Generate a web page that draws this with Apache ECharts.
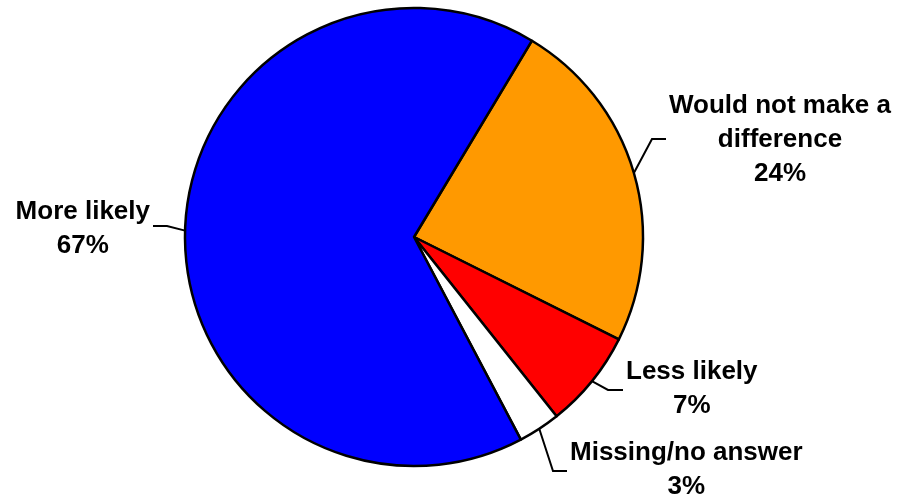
<!DOCTYPE html>
<html>
<head>
<meta charset="utf-8">
<script src="https://cdn.jsdelivr.net/npm/echarts@6/dist/echarts.min.js"></script>
<style>
  html, body { margin: 0; padding: 0; background: #fff; }
  #main-chart { width: 901px; height: 500px; }
</style>
</head>
<body>
<div id="main-chart"></div>
<script>
var mainChart;

// data
var categories = ['Would not make a difference', 'Less likely', 'Missing/no answer', 'More likely'];
var labelLines = [['Would not make a', 'difference'], ['Less likely'], ['Missing/no answer'], ['More likely']];
var values = [24, 7, 3, 67];
var colors = ['#FF9900', '#FF0000', '#FFFFFF', '#0000FF'];

// where each label sits: elbow of the leader, end of the leader, text anchor
var labelPlace = [
    { elbow: [652, 139], end: [666, 139], x: 669, y: 140, align: 'left' },
    { elbow: [608, 390], end: [623, 390], x: 626, y: 389, align: 'left' },
    { elbow: [553, 471], end: [567, 471], x: 570, y: 470, align: 'left' },
    { elbow: [167, 226], end: [153, 226], x: 150, y: 229, align: 'right' }
];

window.onload = function () {
    chartInit();
}

function chartInit() {
    mainChart = echarts.init(document.getElementById('main-chart'));

    var pieData = [];
    for (var i = 0; i < categories.length; i++) {
        pieData.push({
            name: categories[i],
            value: values[i],
            itemStyle: { color: colors[i] }
        });
    }

    var mainOpt = {
        animation: false,
        backgroundColor: '#fff',
        series: [{
            type: 'pie',
            center: [414, 237],
            radius: 229,
            startAngle: 59,
            clockwise: true,
            avoidLabelOverlap: false,
            itemStyle: {
                borderColor: '#000',
                borderWidth: 2.5
            },
            emphasis: { disabled: true },
            label: {
                show: true,
                position: 'outside',
                formatter: function (p) {
                    var rows = labelLines[p.dataIndex].concat([values[p.dataIndex] + '%']);
                    return rows.map(function (r) { return '{t|' + r + '}'; }).join('\n');
                },
                rich: {
                    t: {
                        align: 'center',
                        fontFamily: 'Liberation Sans, Arial, sans-serif',
                        fontWeight: 'bold',
                        fontSize: 26,
                        lineHeight: 34,
                        color: '#000'
                    }
                }
            },
            labelLine: {
                show: true,
                length: 20,
                length2: 15,
                lineStyle: { color: '#000', width: 2 }
            },
            labelLayout: function (params) {
                var pl = labelPlace[params.dataIndex];
                var pts = params.labelLinePoints;
                var start = pts && pts[0] ? pts[0] : pl.elbow;
                return {
                    x: pl.x,
                    y: pl.y,
                    align: pl.align,
                    verticalAlign: 'middle',
                    labelLinePoints: [start, pl.elbow, pl.end]
                };
            },
            data: pieData
        }]
    };

    mainChart.setOption(mainOpt);
}
</script>
</body>
</html>
